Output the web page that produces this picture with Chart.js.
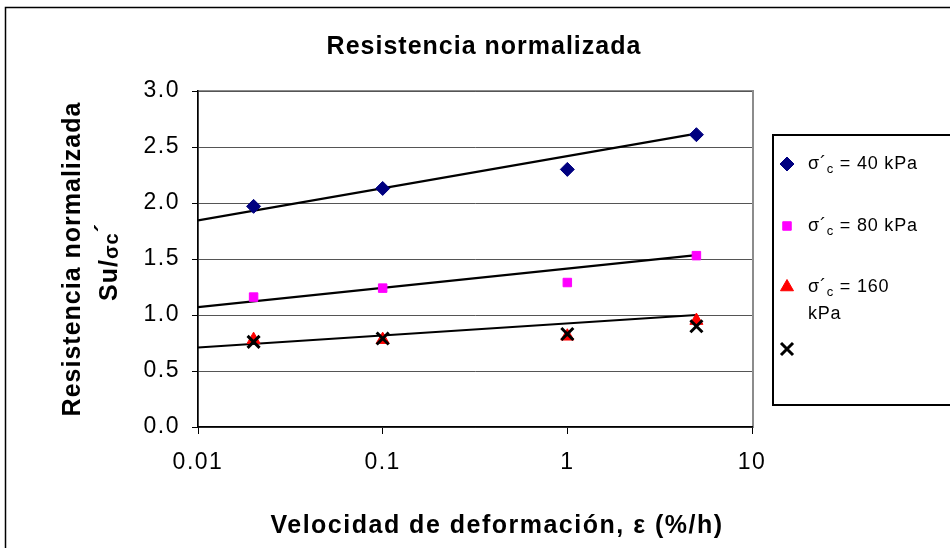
<!DOCTYPE html>
<html>
<head>
<meta charset="utf-8">
<script src="https://cdn.jsdelivr.net/npm/chart.js@4/dist/chart.umd.min.js"></script>
<style>
  html, body { margin: 0; padding: 0; background: #fff; }
  canvas { display: block; }
</style>
</head>
<body>
<div style="width:950px;height:548px"><canvas id="chart" width="950" height="548"></canvas></div>
<script>
// strain rates (%/h) and normalised strength Su/sigma'c
const rates = [0.02, 0.1, 1, 5];
const su40 = [1.97, 2.13, 2.30, 2.61];
const su80 = [1.16, 1.24, 1.29, 1.53];
const su160 = [0.78, 0.78, 0.81, 0.95];
const suCross = [0.76, 0.79, 0.83, 0.90];

// log trend lines, read at both ends
const fitRates = [0.01, 5];
const fit40 = [1.845, 2.62];
const fit80 = [1.07, 1.535];
const fit160 = [0.71, 1.0];

const xTicks = [0.01, 0.1, 1, 10];
const xTickLabels = ["0.01", "0.1", "1", "10"];
const yTickLabels = ["0.0", "0.5", "1.0", "1.5", "2.0", "2.5", "3.0"];

const FONT = "'Liberation Sans', Arial, sans-serif";

const pts = (xs, ys) => xs.map((x, i) => ({ x, y: ys[i] }));

/* ---------- helpers ---------- */
function drawPieces(ctx, pieces, x, y, align) {
  // pieces: [{t, size, bold, dy}]
  let total = 0;
  pieces.forEach(p => {
    ctx.font = `${p.bold ? "bold " : ""}${p.size}px ${FONT}`;
    p.w = ctx.measureText(p.t).width;
    total += p.w;
  });
  let cx = align === "center" ? x - total / 2 : x;
  pieces.forEach(p => {
    ctx.font = `${p.bold ? "bold " : ""}${p.size}px ${FONT}`;
    ctx.fillText(p.t, cx, y + (p.dy || 0));
    cx += p.w;
  });
}

/* ---------- frame + plot border ---------- */
const framePlugin = {
  id: "frame",
  beforeDraw(chart) {
    const { ctx, chartArea: a } = chart;
    ctx.save();
    ctx.fillStyle = "#fff";
    ctx.fillRect(0, 0, chart.width, chart.height);
    ctx.strokeStyle = "#000";
    ctx.lineWidth = 1.5;
    ctx.strokeRect(5.5, 7.5, 1000, 600);
    ctx.strokeStyle = "#8c8c8c";
    ctx.lineWidth = 2;
    ctx.strokeRect(a.left, a.top, a.right - a.left + 1, a.bottom - a.top);
    ctx.restore();
    ctx.letterSpacing = "1.5px";
  }
};

/* ---------- titles + legend ---------- */
const textPlugin = {
  id: "texts",
  afterDraw(chart) {
    const { ctx } = chart;
    ctx.save();
    ctx.fillStyle = "#000";
    ctx.textBaseline = "alphabetic";
    ctx.textAlign = "left";
    ctx.letterSpacing = "1px";

    // chart title
    drawPieces(ctx, [{ t: "Resistencia normalizada", size: 25, bold: true }], 484, 54, "center");

    // x axis title
    ctx.letterSpacing = "1.5px";
    drawPieces(ctx, [{ t: "Velocidad de deformación, ε (%/h)", size: 25, bold: true }], 497, 533, "center");

    // y axis title (two lines, rotated)
    ctx.letterSpacing = "1px";
    ctx.save();
    ctx.translate(80, 259);
    ctx.rotate(-Math.PI / 2);
    drawPieces(ctx, [{ t: "Resistencia normalizada", size: 25, bold: true }], 0, 0, "center");
    ctx.restore();
    ctx.save();
    ctx.translate(117, 262);
    ctx.rotate(-Math.PI / 2);
    drawPieces(ctx, [
      { t: "Su/", size: 25, bold: true },
      { t: "σc", size: 20, bold: true, dy: 1 },
      { t: "´", size: 25, bold: true, dy: -4 }
    ], 0, 0, "center");
    ctx.restore();

    // legend box
    ctx.strokeStyle = "#000";
    ctx.lineWidth = 2;
    ctx.strokeRect(773, 135, 300, 270);

    ctx.letterSpacing = "0.8px";
    const items = [
      { ds: 3, y: 164, lines: ["= 40 kPa"] },
      { ds: 2, y: 226, lines: ["= 80 kPa"] },
      { ds: 1, y: 287, lines: ["= 160", "kPa"] },
      { ds: 0, y: 349, lines: [] }
    ];
    items.forEach(it => {
      const d = chart.data.datasets[it.ds];
      ctx.save();
      ctx.fillStyle = d.backgroundColor;
      ctx.strokeStyle = d.borderColor;
      ctx.lineWidth = d.borderWidth;
      Chart.helpers.drawPoint(ctx, {
        pointStyle: d.pointStyle,
        radius: d.pointRadius,
        borderWidth: d.borderWidth,
        rotation: 0
      }, 787, it.y);
      ctx.restore();
      if (it.lines.length) {
        ctx.fillStyle = "#000";
        const base = it.y + 5;
        drawPieces(ctx, [
          { t: "σ", size: 18 },
          { t: "´", size: 18 },
          { t: "c", size: 13, dy: 4 },
          { t: " " + it.lines[0], size: 18 }
        ], 808, base, "left");
        if (it.lines[1]) {
          drawPieces(ctx, [{ t: it.lines[1], size: 18 }], 808, base + 27, "left");
        }
      }
    });
    ctx.restore();
  }
};

new Chart(document.getElementById("chart"), {
  type: "scatter",
  data: {
    datasets: [
      {
        label: "",
        data: pts(rates, suCross),
        pointStyle: "crossRot",
        pointRadius: 8.5,
        borderWidth: 3,
        borderColor: "#000",
        backgroundColor: "#000"
      },
      {
        label: "σ´c = 160 kPa",
        data: pts(rates, su160),
        pointStyle: "triangle",
        pointRadius: 7.5,
        borderWidth: 1,
        borderColor: "#ff0000",
        backgroundColor: "#ff0000"
      },
      {
        label: "σ´c = 80 kPa",
        data: pts(rates, su80),
        pointStyle: "rect",
        pointRadius: 6,
        borderWidth: 1,
        borderColor: "#ff00ff",
        backgroundColor: "#ff00ff"
      },
      {
        label: "σ´c = 40 kPa",
        data: pts(rates, su40),
        pointStyle: "rectRot",
        pointRadius: 7,
        borderWidth: 1,
        borderColor: "#000080",
        backgroundColor: "#000080"
      },
      { data: pts(fitRates, fit40), showLine: true, pointRadius: 0, borderColor: "#000", borderWidth: 2.2 },
      { data: pts(fitRates, fit80), showLine: true, pointRadius: 0, borderColor: "#000", borderWidth: 2.2 },
      { data: pts(fitRates, fit160), showLine: true, pointRadius: 0, borderColor: "#000", borderWidth: 2.2 }
    ]
  },
  options: {
    responsive: false,
    animation: false,
    events: [],
    layout: { padding: { left: 0, right: 198, top: 91, bottom: 0 } },
    plugins: {
      legend: { display: false },
      title: { display: false },
      tooltip: { enabled: false }
    },
    scales: {
      x: {
        type: "logarithmic",
        min: 0.01,
        max: 10,
        afterBuildTicks(scale) {
          scale.ticks = xTicks.map(v => ({ value: v }));
        },
        afterFit(scale) { scale.height = 121; },
        ticks: {
          autoSkip: false,
          maxRotation: 0,
          padding: 15,
          color: "#000",
          font: { family: FONT, size: 23 },
          callback: (v) => xTickLabels[xTicks.indexOf(v)] ?? ""
        },
        grid: { drawOnChartArea: false, tickLength: 7, color: "#000", lineWidth: 1 },
        border: { display: true, color: "#000", width: 1.5 }
      },
      y: {
        min: 0,
        max: 3,
        afterFit(scale) { scale.width = 198; },
        ticks: {
          stepSize: 0.5,
          padding: 12,
          color: "#000",
          font: { family: FONT, size: 23 },
          callback: (v) => yTickLabels[Math.round(v * 2)]
        },
        grid: { color: "#555", tickColor: "#000", tickLength: 6, lineWidth: 1 },
        border: { display: true, color: "#000", width: 1.5 }
      }
    }
  },
  plugins: [framePlugin, textPlugin]
});
</script>
</body>
</html>
